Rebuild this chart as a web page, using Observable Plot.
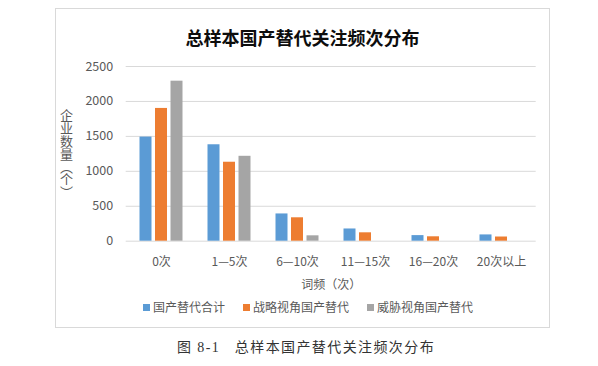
<!DOCTYPE html>
<html>
<head>
<meta charset="utf-8">
<script src="https://cdn.jsdelivr.net/npm/d3@7"></script>
<script src="https://cdn.jsdelivr.net/npm/@observablehq/plot@0.6"></script>
<style>
  html, body { margin: 0; padding: 0; background: #fff; }
  body { width: 598px; height: 366px; position: relative; overflow: hidden;
         font-family: "Noto Sans CJK SC", "Noto Sans", sans-serif; }
  #frame { position: absolute; left: 55px; top: 8px; width: 493px; height: 318px;
           border: 1px solid #d9d9d9; box-sizing: content-box; }
  #title { position: absolute; left: 55px; width: 495px; top: 24px; text-align: center;
           font-size: 18px; font-weight: bold; color: #0d0d0d; line-height: 26px; }
  #chart { position: absolute; left: 0; top: 0; }
  #ylabel { position: absolute; left: 59px; top: 109px; writing-mode: vertical-rl;
            font-size: 13px; line-height: 15px; color: #595959; letter-spacing: -0.2px; }
  #legend { position: absolute; top: 298px; left: 0; width: 598px; height: 18px;
            font-size: 12px; color: #595959; }
  #legend .item { position: absolute; top: 0; line-height: 18px; white-space: nowrap; }
  #legend .sw { display: inline-block; width: 7px; height: 7px; margin-right: 3px; vertical-align: 1px; }
  #caption { position: absolute; top: 338px; left: 177px; font-size: 14px; color: #333;
             font-family: "Liberation Serif", "Noto Sans CJK SC", serif; letter-spacing: 1.4px;
             line-height: 20px; white-space: nowrap; }
</style>
</head>
<body>
<div id="frame"></div>
<div id="title"></div>
<div id="chart"></div>
<div id="ylabel"></div>
<div id="legend"></div>
<div id="caption"></div>
<script>
const categories = ["0次", "1—5次", "6—10次", "11—15次", "16—20次", "20次以上"];
const seriesNames = ["国产替代合计", "战略视角国产替代", "威胁视角国产替代"];
const totalValues = [1490, 1380, 390, 175, 80, 90];
const strategicValues = [1900, 1130, 335, 120, 63, 60];
const threatValues = [2290, 1215, 77, 0, 0, 0];
const colors = ["#5B9BD5", "#ED7D31", "#A5A5A5"];
const yTicks = [0, 500, 1000, 1500, 2000, 2500];
const titleText = "总样本国产替代关注频次分布";
const xLabel = "词频（次）";
const yLabel = "企业数量（个）";
const captionText = "图 8-1\u00a0\u00a0\u00a0总样本国产替代关注频次分布";

const seriesValues = [totalValues, strategicValues, threatValues];
const offsets = [-15.5, 0, 15.5];

const rows = seriesValues.map((vals, s) =>
  categories.map((c, i) => ({category: c, series: seriesNames[s], value: vals[i]})));

const chart = Plot.plot({
  width: 598,
  height: 300,
  marginTop: 66,
  marginBottom: 59.3,
  marginLeft: 125.7,
  marginRight: 62.3,
  style: {fontFamily: '"Noto Sans CJK SC", "Noto Sans", sans-serif', fontSize: "12px", color: "#595959", background: "transparent"},
  x: {domain: categories, paddingInner: 0.829, paddingOuter: 0.4145},
  y: {domain: [0, 2500]},
  marks: [
    Plot.ruleY(yTicks, {stroke: "#d9d9d9", strokeWidth: 1}),
    ...rows.map((data, s) => Plot.barY(data, {x: "category", y: "value", fill: colors[s], dx: offsets[s]})),
    Plot.axisX({tickSize: 0, tickPadding: 16, label: xLabel, labelAnchor: "center", labelOffset: 48, fontSize: 12, fill: "#595959"}),
    Plot.axisY({ticks: yTicks, tickFormat: d3.format("d"), tickSize: 0, tickPadding: 13, label: null, fontSize: 12.5, fill: "#595959"})
  ]
});
document.getElementById("chart").appendChild(chart);

document.getElementById("title").textContent = titleText;
document.getElementById("ylabel").textContent = yLabel;
document.getElementById("caption").textContent = captionText;

const legendPos = [143, 243, 367];
const legend = document.getElementById("legend");
seriesNames.forEach((name, i) => {
  const item = document.createElement("span");
  item.className = "item";
  item.style.left = legendPos[i] + "px";
  const sw = document.createElement("span");
  sw.className = "sw";
  sw.style.background = colors[i];
  item.appendChild(sw);
  item.appendChild(document.createTextNode(name));
  legend.appendChild(item);
});
</script>
</body>
</html>
